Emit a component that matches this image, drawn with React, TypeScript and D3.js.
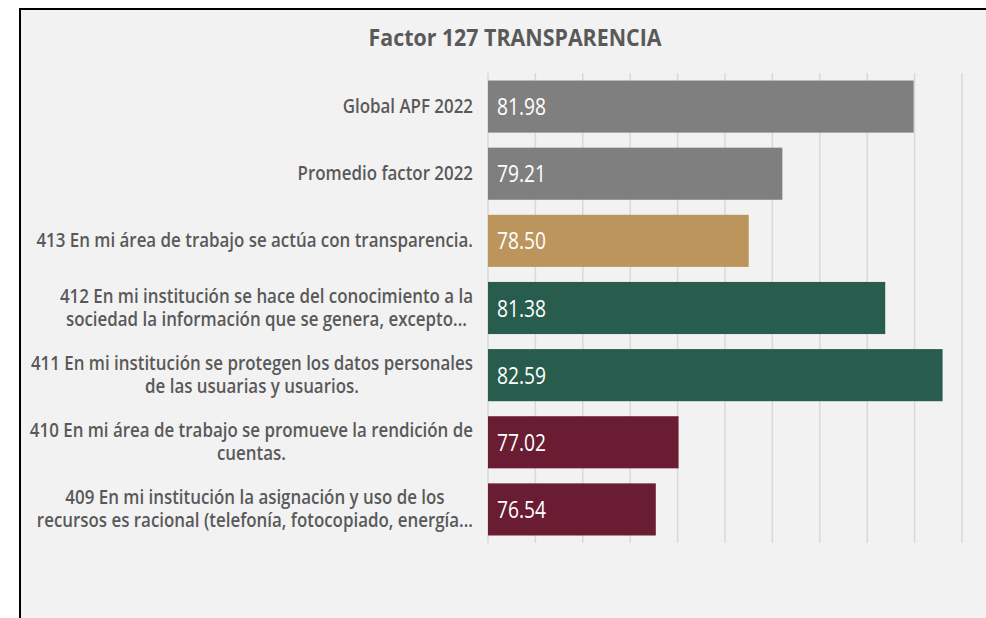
import { useEffect, useRef } from "react";
import * as d3 from "d3";

const CATEGORIES = [
  "Global APF 2022",
  "Promedio factor 2022",
  "413 En mi área de trabajo se actúa con transparencia.",
  "412 En mi institución se hace del conocimiento a la|sociedad la información que se genera, excepto...",
  "411 En mi institución se protegen los datos personales|de las usuarias y usuarios.",
  "410 En mi área de trabajo se promueve la rendición de|cuentas.",
  "409 En mi institución la asignación y uso de los|recursos es racional (telefonía, fotocopiado, energía...",
];
const VALUES = [81.98, 79.21, 78.5, 81.38, 82.59, 77.02, 76.54];
const BAR_COLORS = ["#7f7f7f", "#7f7f7f", "#bc955c", "#285c4d", "#285c4d", "#691c32", "#691c32"];
const X_DOMAIN = [73, 83];
const TITLE = "Factor 127 TRANSPARENCIA";

const W = 986;
const H = 618;
const FONT = "'Open Sans', sans-serif";

export default function App() {
  const svgRef = useRef<SVGSVGElement>(null);

  useEffect(() => {
    if (!svgRef.current) return;
    const svg = d3.select(svgRef.current);
    svg.selectAll("*").remove();

    const plot = { left: 488, right: 962, top: 73, bottom: 543 };

    // frame
    svg.append("rect").attr("width", W).attr("height", H).attr("fill", "#ffffff");
    svg
      .append("rect")
      .attr("x", 20)
      .attr("y", 9)
      .attr("width", 1000)
      .attr("height", 700)
      .attr("fill", "#f2f2f2")
      .attr("stroke", "#000")
      .attr("stroke-width", 2);

    const x = d3.scaleLinear().domain(X_DOMAIN).range([plot.left, plot.right]);
    const y = d3
      .scaleBand<number>()
      .domain(d3.range(CATEGORIES.length))
      .range([plot.top, plot.bottom])
      .paddingInner(0.224)
      .paddingOuter(0.112);

    // gridlines
    svg
      .append("g")
      .selectAll("line")
      .data(x.ticks(10))
      .join("line")
      .attr("x1", (d) => x(d))
      .attr("x2", (d) => x(d))
      .attr("y1", plot.top)
      .attr("y2", plot.bottom)
      .attr("stroke", "#d9d9d9")
      .attr("stroke-width", 1.5);

    // bars
    svg
      .append("g")
      .selectAll("rect")
      .data(VALUES)
      .join("rect")
      .attr("x", x(X_DOMAIN[0]))
      .attr("y", (_, i) => y(i)!)
      .attr("width", (d) => x(d) - x(X_DOMAIN[0]))
      .attr("height", y.bandwidth())
      .attr("fill", (_, i) => BAR_COLORS[i]);

    // value labels
    VALUES.forEach((v, i) => {
      svg
        .append("g")
        .attr("transform", `translate(${x(X_DOMAIN[0]) + 9},${y(i)! + y.bandwidth() / 2 + 8.5}) scale(0.8,1)`)
        .append("text")
        .attr("fill", "#ffffff")
        .attr("font-family", FONT)
        .attr("font-size", 24)
        .text(v.toFixed(2));
    });

    // category labels (centred lines, right edge against the plot)
    const sq = 0.89;
    CATEGORIES.forEach((c, i) => {
      const lines = c.split("|");
      const cy = y(i)! + y.bandwidth() / 2;
      const lh = 23;
      const g = svg.append("g");
      const inner = g.append("g").attr("transform", `scale(${sq},1)`);
      lines.forEach((ln, j) => {
        inner
          .append("text")
          .attr("x", 0)
          .attr("y", (j - (lines.length - 1) / 2) * lh + 6.5)
          .attr("text-anchor", "middle")
          .attr("fill", "#595959")
          .attr("font-family", FONT)
          .attr("font-weight", 600)
          .attr("font-size", 19)
          .text(ln);
      });
      const maxW = d3.max(inner.selectAll<SVGTextElement, unknown>("text").nodes(), (n) => n.getComputedTextLength()) ?? 0;
      g.attr("transform", `translate(${plot.left - 15 - (maxW * sq) / 2},${cy})`);
    });

    // title
    svg
      .append("g")
      .attr("transform", `translate(515,46) scale(0.93,1)`)
      .append("text")
      .attr("text-anchor", "middle")
      .attr("fill", "#595959")
      .attr("font-family", FONT)
      .attr("font-weight", "bold")
      .attr("font-size", 23)
      .text(TITLE);
  }, []);

  return (
    <div style={{ position: "absolute", left: 0, top: 0 }}>
      <svg ref={svgRef} width={W} height={H} style={{ display: "block" }} />
    </div>
  );
}
